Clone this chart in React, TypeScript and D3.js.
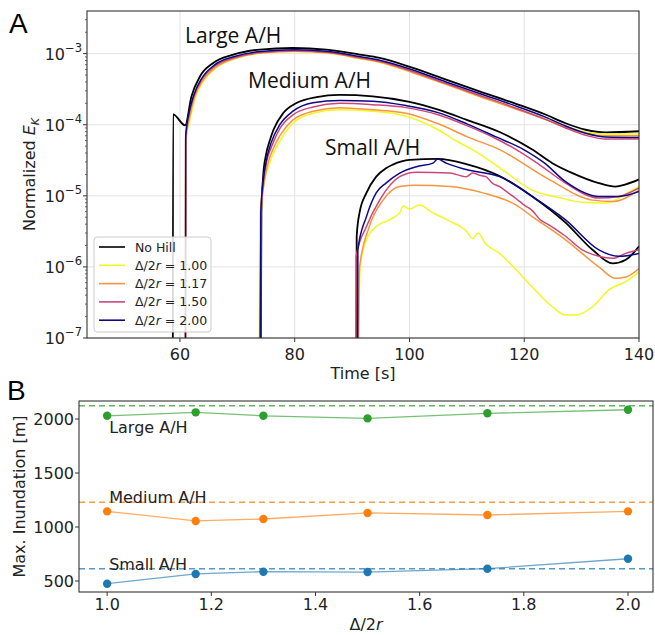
import React from "react";
import * as d3 from "d3";

// ---- Panel A: normalized kinetic energy vs time (log scale) ----
type Pt = [number, number];

const seriesNames = ["No Hill", "1.00", "1.17", "1.50", "2.00"];
const seriesColors = ["#000000", "#f0f921", "#f89540", "#cc4778", "#0d0887"];

// Large A/H
const largeNoHill: Pt[] = [[58.75, 1e-8], [58.8, 1.4e-4], [60.9, 9.8e-5], [62.0, 2.5e-4], [63.5, 4.8e-4], [65.8, 7.4e-4], [69.3, 9.7e-4], [73.9, 1.14e-3], [79.7, 1.2e-3], [85.5, 1.14e-3], [91.3, 9.7e-4], [94.8, 8.7e-4], [100.6, 6.3e-4], [106.4, 4.3e-4], [112.2, 2.95e-4], [118.0, 2.04e-4], [123.8, 1.38e-4], [127.2, 1.05e-4], [130.7, 8.5e-5], [134.2, 7.8e-5], [140, 8.1e-5]];
const largeR100: Pt[] = [[60.95, 1e-8], [61.0, 5.5e-5], [61.8, 1.25e-4], [62.6, 2.3e-4], [64.1, 4.1e-4], [66.3, 6.3e-4], [69.7, 8.5e-4], [74, 1.01e-3], [80, 1.07e-3], [86, 1.01e-3], [91.3, 8.5e-4], [94.8, 7.5e-4], [100.6, 5.4e-4], [106.4, 3.7e-4], [112.2, 2.5e-4], [118, 1.74e-4], [123.8, 1.2e-4], [127.2, 9.5e-5], [130.7, 7.9e-5], [134.2, 7.4e-5], [140, 7.4e-5]];
const largeR117: Pt[] = [[60.95, 1e-8], [61.0, 6e-5], [61.7, 1.3e-4], [62.5, 2.4e-4], [64.0, 4.2e-4], [66.2, 6.4e-4], [69.6, 8.6e-4], [74.0, 1.02e-3], [80.0, 1.08e-3], [86, 1.02e-3], [91.3, 8.6e-4], [94.8, 7.6e-4], [100.6, 5.4e-4], [106.4, 3.7e-4], [112.2, 2.5e-4], [118, 1.72e-4], [123.8, 1.18e-4], [127.2, 9.2e-5], [130.7, 7.6e-5], [134.2, 7.0e-5], [140, 7.0e-5]];
const largeR150: Pt[] = [[60.95, 1e-8], [61.0, 6.5e-5], [61.6, 1.4e-4], [62.4, 2.5e-4], [63.8, 4.3e-4], [66.0, 6.6e-4], [69.5, 8.8e-4], [74.0, 1.04e-3], [80.0, 1.1e-3], [86.0, 1.04e-3], [91.3, 8.8e-4], [94.8, 7.8e-4], [100.6, 5.6e-4], [106.4, 3.8e-4], [112.2, 2.6e-4], [118.0, 1.78e-4], [123.8, 1.18e-4], [127.2, 9.0e-5], [130.7, 7.1e-5], [134.2, 6.3e-5], [140, 6.3e-5]];
const largeR200: Pt[] = [[60.95, 1e-8], [61.0, 7e-5], [61.6, 1.5e-4], [62.4, 2.6e-4], [63.8, 4.5e-4], [66.0, 6.9e-4], [69.5, 9.1e-4], [74.0, 1.07e-3], [80.0, 1.13e-3], [86.0, 1.07e-3], [91.3, 9.1e-4], [94.8, 8.1e-4], [100.6, 5.9e-4], [106.4, 4.0e-4], [112.2, 2.75e-4], [118.0, 1.9e-4], [123.8, 1.27e-4], [127.2, 9.6e-5], [130.7, 7.6e-5], [134.2, 6.7e-5], [140, 6.6e-5]];

// Medium A/H
const mediumNoHill: Pt[] = [[74.05, 1e-8], [74.2, 6e-6], [74.5, 1.9e-5], [75.0, 3.8e-5], [75.6, 5.8e-5], [76.3, 8.5e-5], [78.0, 1.46e-4], [80.3, 2.02e-4], [83.8, 2.45e-4], [87.8, 2.63e-4], [93.6, 2.51e-4], [100, 2.1e-4], [105, 1.63e-4], [110, 1.17e-4], [115.7, 7.9e-5], [121.4, 4.47e-5], [124.9, 2.88e-5], [128.4, 2.09e-5], [133, 1.51e-5], [135.9, 1.35e-5], [137.7, 1.45e-5], [140, 1.7e-5]];
const mediumR100: Pt[] = [[73.8, 1e-8], [73.9, 4.5e-6], [74.5, 1.3e-5], [75.2, 2.3e-5], [76.2, 3.8e-5], [77.6, 6.3e-5], [79.7, 1.05e-4], [83.2, 1.45e-4], [87.8, 1.62e-4], [93.6, 1.55e-4], [99.4, 1.32e-4], [105, 8.5e-5], [108, 6.0e-5], [111, 4.47e-5], [116, 2.4e-5], [121.4, 1.2e-5], [126, 9.5e-6], [130.1, 8.1e-6], [134.2, 7.9e-6], [138.8, 1.2e-5], [140, 1.35e-5]];
const mediumR117: Pt[] = [[73.95, 1e-8], [74.1, 5e-6], [74.6, 1.4e-5], [75.2, 2.6e-5], [76.1, 4.3e-5], [77.5, 7.2e-5], [79.7, 1.17e-4], [83.2, 1.55e-4], [87.8, 1.74e-4], [93.6, 1.62e-4], [99.4, 1.45e-4], [105, 1.03e-4], [110, 6.8e-5], [115.7, 4.47e-5], [124.3, 1.7e-5], [131.9, 8.7e-6], [135.4, 8.3e-6], [140, 1.2e-5]];
const mediumR150: Pt[] = [[73.95, 1e-8], [74.1, 5.5e-6], [74.5, 1.5e-5], [75.1, 3.0e-5], [76.0, 5.0e-5], [77.4, 8.8e-5], [79.7, 1.38e-4], [83.2, 1.78e-4], [87.8, 2.0e-4], [93.6, 1.91e-4], [99.4, 1.74e-4], [105, 1.38e-4], [110, 9.7e-5], [115, 6.4e-5], [118.6, 4.47e-5], [122.5, 2.8e-5], [127.2, 1.51e-5], [133, 9.3e-6], [136.5, 9.8e-6], [140, 1.29e-5]];
const mediumR200: Pt[] = [[73.95, 1e-8], [74.1, 6e-6], [74.5, 1.6e-5], [75.1, 3.3e-5], [75.9, 5.6e-5], [77.4, 1.0e-4], [79.7, 1.55e-4], [83.2, 2.04e-4], [87.8, 2.19e-4], [93.6, 2.14e-4], [99.4, 1.86e-4], [105, 1.48e-4], [110, 1.03e-4], [115, 6.8e-5], [119.9, 4.47e-5], [123.5, 2.9e-5], [127.2, 1.58e-5], [133, 9.8e-6], [136.5, 9.8e-6], [140, 1.15e-5]];

// Small A/H
const smallNoHill: Pt[] = [[90.75, 1e-8], [90.8, 2.7e-6], [91.3, 5.8e-6], [92.5, 1.1e-5], [94.2, 1.86e-5], [95.9, 2.45e-5], [97.1, 2.75e-5], [100, 3.2e-5], [104.9, 3.3e-5], [109.9, 2.8e-5], [115.7, 1.9e-5], [121.4, 9.8e-6], [127.2, 4.2e-6], [131.9, 1.74e-6], [135.4, 1.12e-6], [137.7, 1.26e-6], [140, 1.95e-6]];
const smallR100: Pt[] = [[91.0, 1e-8], [91.4, 1e-6], [92.5, 2.4e-6], [94.2, 3.7e-6], [96.5, 4.6e-6], [98.3, 5.8e-6], [98.9, 7.2e-6], [100, 6.5e-6], [101.7, 7.4e-6], [104, 5.8e-6], [107, 4.4e-6], [109.9, 3.2e-6], [111, 2.5e-6], [111.9, 3.0e-6], [113.3, 2.1e-6], [115.7, 1.55e-6], [118.6, 9.1e-7], [121.4, 5.2e-7], [124.9, 2.75e-7], [127.2, 2.1e-7], [129, 2.1e-7], [131.9, 2.75e-7], [134.8, 4.8e-7], [137.7, 6.2e-7], [140, 8.5e-7]];
const smallR117: Pt[] = [[91.0, 1e-8], [91.3, 1e-6], [93.0, 3.7e-6], [95.4, 8.7e-6], [98.3, 1.35e-5], [101.2, 1.41e-5], [107, 1.35e-5], [112.8, 1.1e-5], [118.6, 7.4e-6], [121.4, 5.1e-6], [127.2, 2.4e-6], [133, 1.0e-6], [135.9, 6.9e-7], [137.7, 7.2e-7], [140, 9.5e-7]];
const smallR150: Pt[] = [[90.65, 1e-8], [90.7, 1.41e-6], [92.5, 3.7e-6], [94.8, 8.7e-6], [98.3, 1.86e-5], [101.2, 2.14e-5], [107, 2.09e-5], [109.9, 1.86e-5], [111, 2.09e-5], [112.2, 1.95e-5], [113.3, 1.86e-5], [114.5, 1.5e-5], [115.7, 1.35e-5], [117.2, 1.1e-5], [118.6, 9.1e-6], [120, 7.4e-6], [121.4, 6.2e-6], [122.8, 4.6e-6], [124.3, 3.9e-6], [127.2, 2.7e-6], [130.1, 1.74e-6], [133, 1.41e-6], [135.4, 1.32e-6], [137.7, 1.55e-6], [140, 1.74e-6]];
const smallR200: Pt[] = [[90.95, 1e-8], [91.0, 1.74e-6], [92.5, 5.1e-6], [94.2, 1.1e-5], [95.9, 1.51e-5], [98.3, 2.09e-5], [101.2, 2.57e-5], [104.1, 2.88e-5], [104.9, 3.3e-5], [106.4, 2.88e-5], [109.9, 2.34e-5], [115.7, 1.86e-5], [121.4, 9.8e-6], [127.2, 4.6e-6], [133, 1.74e-6], [136.5, 1.41e-6], [140, 1.55e-6]];

const groupsA: Pt[][][] = [
  [largeNoHill, largeR100, largeR117, largeR150, largeR200],
  [mediumNoHill, mediumR100, mediumR117, mediumR150, mediumR200],
  [smallNoHill, smallR100, smallR117, smallR150, smallR200],
];
const groupLabelsA = ["Large A/H", "Medium A/H", "Small A/H"];
const timeTicks = [60, 80, 100, 120, 140];
const ekDecades = [-7, -6, -5, -4, -3];

// ---- Panel B: max inundation vs hill spacing ----
const ratios = [1.0, 1.17, 1.3, 1.5, 1.73, 2.0];
const largeInund = [2030, 2062, 2030, 2006, 2053, 2086];
const mediumInund = [1145, 1056, 1074, 1130, 1111, 1145];
const smallInund = [475, 565, 586, 583, 614, 706];
const noHillInund = [2123, 1229, 614];
const labelYB = [1870, 1225, 605];
const groupColorsB = ["#2ca02c", "#ff7f0e", "#1f77b4"];
const ratioTicks = [1.0, 1.2, 1.4, 1.6, 1.8, 2.0];
const inundTicks = [500, 1000, 1500, 2000];

const tickFont = "DejaVu Sans, sans-serif";

const App = () => {
  // panel A geometry
  const aL = 87, aR = 639, aT = 11, aB = 338;
  const xA = d3.scaleLinear().domain([43.8, 140]).range([aL, aR]);
  const yA = d3.scaleLog().domain([1e-7, 3.98e-3]).range([aB, aT]);
  const lineA = d3
    .line<Pt>()
    .x((d) => xA(d[0]))
    .y((d) => yA(d[1]))
    .curve(d3.curveMonotoneX);

  const minorTicks: number[] = [];
  ekDecades.forEach((e) => {
    for (let m = 2; m <= 9; m++) {
      const v = m * Math.pow(10, e);
      if (v < yA.domain()[1]) minorTicks.push(v);
    }
  });

  // panel B geometry
  const bL = 79, bR = 653, bT = 401, bB = 592;
  const xB = d3.scaleLinear().domain([0.946, 2.048]).range([bL, bR]);
  const yB = d3.scaleLinear().domain([398, 2167]).range([bB, bT]);
  const lineB = d3
    .line<number>()
    .x((d, i) => xB(ratios[i]))
    .y((d) => yB(d));
  const inundSeries = [largeInund, mediumInund, smallInund];

  const legendRows = seriesNames.map((n, i) => ({ n, c: seriesColors[i] }));

  return (
    <svg width={655} height={635} style={{ position: "absolute", left: 0, top: 0, background: "#fff" }}>
      <defs>
        <clipPath id="clipA">
          <rect x={aL} y={aT} width={aR - aL} height={aB - aT} />
        </clipPath>
        <clipPath id="clipTime">
          <rect x={0} y={0} width={655} height={381} />
        </clipPath>
      </defs>

      {/* ===== Panel A ===== */}
      <text x={9} y={33} fontFamily="Liberation Sans, Arial, sans-serif" fontSize={28}>A</text>

      {/* grid */}
      {timeTicks.map((t) => (
        <line key={"gx" + t} x1={xA(t)} x2={xA(t)} y1={aT} y2={aB} stroke="#e3e3e3" strokeWidth={1} />
      ))}
      {ekDecades.map((e) => (
        <line key={"gy" + e} x1={aL} x2={aR} y1={yA(Math.pow(10, e))} y2={yA(Math.pow(10, e))} stroke="#e3e3e3" strokeWidth={1} />
      ))}

      {/* curves */}
      <g clipPath="url(#clipA)">
        {groupsA.map((grp, gi) =>
          grp.map((s, si) => (
            <path
              key={gi + "-" + si}
              d={lineA(s) || ""}
              fill="none"
              stroke={seriesColors[si]}
              strokeWidth={si === 0 ? 1.8 : 1.5}
              strokeLinejoin="round"
            />
          ))
        )}
      </g>

      {/* frame */}
      <rect x={aL} y={aT} width={aR - aL} height={aB - aT} fill="none" stroke="#333" strokeWidth={1.1} />

      {/* x ticks */}
      {timeTicks.map((t) => (
        <g key={"xt" + t}>
          <line x1={xA(t)} x2={xA(t)} y1={aB} y2={aB + 4} stroke="#333" />
          <text x={xA(t)} y={360} textAnchor="middle" fontFamily={tickFont} fontSize={16} fill="#222">{t}</text>
        </g>
      ))}
      {/* y ticks */}
      {minorTicks.map((v, i) => (
        <line key={"ym" + i} x1={aL - 2} x2={aL} y1={yA(v)} y2={yA(v)} stroke="#444" strokeWidth={0.8} />
      ))}
      {ekDecades.map((e) => (
        <g key={"yt" + e}>
          <line x1={aL - 4} x2={aL} y1={yA(Math.pow(10, e))} y2={yA(Math.pow(10, e))} stroke="#333" />
          <text x={82} y={yA(Math.pow(10, e)) + 6} textAnchor="end" fontFamily={tickFont} fontSize={16} fill="#222">
            10<tspan dy={-8} fontSize={11.5}>{"\u2212" + Math.abs(e)}</tspan>
          </text>
        </g>
      ))}

      {/* axis labels */}
      <text transform={`translate(35,${(aT + aB) / 2}) rotate(-90)`} textAnchor="middle" fontFamily={tickFont} fontSize={16} fill="#222">
        Normalized <tspan fontStyle="italic">E</tspan><tspan fontStyle="italic" fontSize={11} dy={4}>K</tspan>
      </text>
      <g clipPath="url(#clipTime)">
        <text x={(aL + aR) / 2} y={379} textAnchor="middle" fontFamily={tickFont} fontSize={16} fill="#222">Time [s]</text>
      </g>

      {/* group annotations */}
      <text x={185} y={43} fontFamily="Open Sans, sans-serif" fontSize={21} fill="#111">{groupLabelsA[0]}</text>
      <text x={248} y={88} fontFamily="Open Sans, sans-serif" fontSize={21} fill="#111">{groupLabelsA[1]}</text>
      <text x={325} y={155} fontFamily="Open Sans, sans-serif" fontSize={21} fill="#111">{groupLabelsA[2]}</text>

      {/* legend */}
      <g transform="translate(94,237)">
        <rect x={0} y={0} width={117} height={95} rx={3} fill="#fff" fillOpacity={0.85} stroke="#cccccc" />
        {legendRows.map((r, i) => (
          <g key={"lg" + i} transform={`translate(0,${10 + i * 18.3})`}>
            <line x1={5} x2={31} y1={0} y2={0} stroke={r.c} strokeWidth={1.6} />
            <text x={41} y={4.5} fontFamily={tickFont} fontSize={12.5} fill="#222">
              {i === 0 ? (
                r.n
              ) : (
                <>
                  {"\u0394/2"}
                  <tspan fontStyle="italic">r</tspan>
                  {" = " + r.n}
                </>
              )}
            </text>
          </g>
        ))}
      </g>

      {/* ===== Panel B ===== */}
      <text x={7} y={400} fontFamily="Liberation Sans, Arial, sans-serif" fontSize={28}>B</text>

      {noHillInund.map((v, i) => (
        <line key={"nh" + i} x1={bL} x2={bR} y1={yB(v)} y2={yB(v)} stroke={groupColorsB[i]} strokeOpacity={0.75} strokeWidth={1.4} strokeDasharray="6,4" />
      ))}
      {inundSeries.map((s, i) => (
        <g key={"bs" + i}>
          <path d={lineB(s) || ""} fill="none" stroke={groupColorsB[i]} strokeOpacity={0.65} strokeWidth={1.3} />
          {s.map((v, j) => (
            <circle key={j} cx={xB(ratios[j])} cy={yB(v)} r={4.2} fill={groupColorsB[i]} />
          ))}
        </g>
      ))}
      {groupLabelsA.map((lab, i) => (
        <text key={"bl" + i} x={xB(ratios[0]) + 2} y={yB(labelYB[i])} fontFamily={tickFont} fontSize={16} fill="#222">{lab}</text>
      ))}

      <rect x={bL} y={bT} width={bR - bL} height={bB - bT} fill="none" stroke="#333" strokeWidth={1.1} />

      {ratioTicks.map((t) => (
        <g key={"bxt" + t}>
          <line x1={xB(t)} x2={xB(t)} y1={bB} y2={bB + 4} stroke="#333" />
          <text x={xB(t)} y={610} textAnchor="middle" fontFamily={tickFont} fontSize={16} fill="#222">{t.toFixed(1)}</text>
        </g>
      ))}
      {inundTicks.map((t) => (
        <g key={"byt" + t}>
          <line x1={bL - 4} x2={bL} y1={yB(t)} y2={yB(t)} stroke="#333" />
          <text x={74} y={yB(t) + 6} textAnchor="end" fontFamily={tickFont} fontSize={16} fill="#222">{t}</text>
        </g>
      ))}
      <text transform={`translate(25,${(bT + bB) / 2}) rotate(-90)`} textAnchor="middle" fontFamily={tickFont} fontSize={16} fill="#222">
        Max. Inundation [m]
      </text>
      <text x={(bL + bR) / 2} y={630} textAnchor="middle" fontFamily={tickFont} fontSize={16} fill="#222">
        {"\u0394/2"}<tspan fontStyle="italic">r</tspan>
      </text>
    </svg>
  );
};

export default App;
